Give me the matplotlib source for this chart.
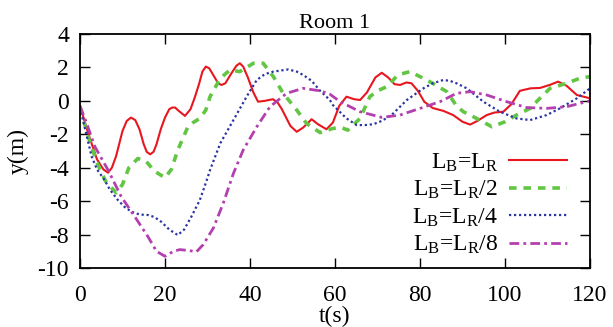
import matplotlib
matplotlib.use("Agg")
import matplotlib.pyplot as plt

plt.rcParams["font.family"] = ["Liberation Serif", "DejaVu Serif"]
plt.rcParams["mathtext.fontset"] = "custom"
plt.rcParams["mathtext.rm"] = "Liberation Serif"
plt.rcParams["mathtext.it"] = "Liberation Serif:italic"
plt.rcParams["axes.unicode_minus"] = False

# Lateral position y(m) over time t(s) for four L_B/L_R ratios
t_full = [0, 2, 4, 5.5, 6.6, 7.5, 8.5, 10, 11, 12, 13, 14, 15, 15.7, 16.5, 17.3, 18,
          19, 20, 21, 21.7, 22.4, 23, 24.7, 26, 27, 28, 28.8, 29.6, 30.4, 31, 32.5,
          33.3, 34.2, 35.5, 36.8, 37.6, 38.4, 39.5, 40.8, 41.9, 43.5, 45.4, 46.5,
          47.5, 48.5, 49.5, 51, 52.5, 54.5, 56, 58, 59.5, 61, 62.7, 64.5, 65.9, 67.5,
          69.5, 71, 72.5, 74, 75.3, 76.8, 78, 79.5, 81, 83, 85.5, 87.8, 90, 91.8,
          93.5, 95.7, 97.5, 99.6, 101.5, 103.5, 106, 108.2, 110.5, 112.5, 114.5,
          116.9, 118.5, 120]
y_full = [-0.3, -2.0, -3.5, -4.1, -4.3, -4.0, -3.3, -1.8, -1.2, -1.0, -1.15, -1.7,
          -2.6, -3.05, -3.2, -3.05, -2.6, -1.7, -1.0, -0.5, -0.4, -0.4, -0.55, -0.9,
          -0.5, 0.2, 1.0, 1.75, 2.05, 1.95, 1.7, 1.05, 0.95, 1.05, 1.6, 2.1, 2.25,
          2.05, 1.4, 0.5, -0.05, 0.0, 0.1, -0.1, -0.5, -1.0, -1.5, -1.85, -1.6, -1.1,
          -1.4, -1.7, -1.3, -0.3, 0.25, 0.1, 0.05, 0.5, 1.4, 1.68, 1.4, 1.0, 0.95, 1.1,
          1.05, 0.6, -0.05, -0.43, -0.6, -0.85, -1.25, -1.42, -1.2, -0.85, -0.7,
          -0.65, -0.2, 0.6, 0.75, 0.77, 0.95, 1.15, 0.9, 0.35, 0.25, 0.15]

t_half = [0, 2, 4, 6, 8.5, 10, 11.5, 13.6, 15.5, 17.5, 20, 21.5, 23, 25.4, 26.6, 28.2,
          29.6, 30.6, 33, 35.3, 37.6, 39.2, 40.8, 43.1, 45.5, 47.8, 51, 53.3, 56.5,
          59.5, 61.5, 63, 65.9, 68.2, 70, 72.2, 74.8, 77.6, 80, 83, 86.3, 88.6, 90.2,
          94.1, 96.9, 100, 102.7, 105.9, 108.2, 110.6, 114.5, 117.6, 120]
y_half = [-0.4, -2.2, -3.7, -4.8, -5.5, -5.0, -4.0, -3.45, -3.6, -4.2, -4.6, -4.1,
          -2.94, -1.55, -1.3, -1.05, -0.55, 0.25, 1.35, 1.85, 1.75, 2.0, 2.25, 2.25,
          1.45, 0.45, -0.55, -1.35, -1.9, -1.65, -1.6, -1.75, -1.05, 0.25, 0.6, 0.85,
          1.55, 1.75, 1.45, 1.05, 0.55, -0.3, -0.65, -1.15, -1.55, -1.25, -0.85, -0.45,
          0.15, 0.75, 1.05, 1.35, 1.45]

t_quarter = [0, 1.5, 2.7, 4, 5.8, 7, 8.9, 10.5, 12.1, 14, 16, 17.5, 19.1, 21, 23, 24.5,
             26.2, 28.2, 29.7, 30.6, 33, 36.1, 39.2, 41.6, 43.5, 45.5, 49, 51, 52.5,
             54.5, 56.5, 58.8, 59.5, 62.7, 65.1, 67, 69, 71, 73.3, 76.9, 80.8, 83, 85.5,
             87, 88.6, 91, 94.9, 98.8, 102.7, 105.9, 109.8, 112.9, 116.9, 120]
y_quarter = [-0.4, -2.0, -3.3, -4.1, -4.74, -5.3, -5.93, -6.35, -6.63, -6.8, -6.83,
             -6.95, -7.23, -7.7, -8.03, -7.7, -6.93, -5.93, -4.84, -4.14, -2.54, -1.15,
             0.25, 1.25, 1.6, 1.75, 1.88, 1.75, 1.55, 1.2, 0.6, 0.05, -0.25, -1.05,
             -1.45, -1.45, -1.4, -1.2, -0.85, 0.05, 0.75, 1.05, 1.25, 1.2, 1.05, 0.75,
             -0.05, -0.65, -1.05, -1.15, -0.85, -0.45, 0.15, 0.75]

t_eighth = [0, 1.5, 3.5, 6.6, 9.7, 12.9, 16, 18, 20, 22, 23.5, 25.5, 27.4, 29, 31.4,
            33.7, 36.1, 38.4, 41.6, 44.7, 48.6, 52.5, 56.5, 58.8, 61.2, 65.9, 71, 75.3,
            80, 84.7, 88.6, 91.8, 95.7, 100.4, 105.1, 109.8, 114.5, 119.2, 120]
y_eighth = [-0.3, -1.3, -2.74, -4.14, -5.73, -6.93, -8.13, -9.0, -9.3, -9.0, -8.9,
            -8.95, -9.03, -8.6, -7.6, -6.13, -4.34, -2.94, -1.55, -0.35, 0.45, 0.75,
            0.6, 0.4, -0.05, -0.65, -0.99, -0.85, -0.45, -0.05, 0.45, 0.55, 0.35,
            -0.05, -0.4, -0.45, -0.35, -0.05, 0.0]

labels = ["L$_\\mathrm{B}$=L$_\\mathrm{R}$",
          "L$_\\mathrm{B}$=L$_\\mathrm{R}$/2",
          "L$_\\mathrm{B}$=L$_\\mathrm{R}$/4",
          "L$_\\mathrm{B}$=L$_\\mathrm{R}$/8"]

x_ticks = [0, 20, 40, 60, 80, 100, 120]
y_ticks = [4, 2, 0, -2, -4, -6, -8, -10]

fig = plt.figure(figsize=(6.13, 3.27), dpi=100)
ax = fig.add_axes([80 / 613, 59 / 327, 510 / 613, 234 / 327])

ax.plot(t_full, y_full, color="#e8161f", lw=1.5, ls="-", label=labels[0],
        solid_joinstyle="round")
ax.plot(t_half, y_half, color="#62c644", lw=2.6, ls=(0, (2.1, 1.9)), label=labels[1])
ax.plot(t_quarter, y_quarter, color="#2b33a5", lw=1.6, ls=(0, (1.0, 1.25)),
        label=labels[2])
ax.plot(t_eighth, y_eighth, color="#b43fae", lw=2.0, ls=(0, (3.5, 1.5, 1.0, 1.5)),
        label=labels[3])

ax.set_xlim(0, 120)
ax.set_ylim(-10, 4)
ax.set_xticks(x_ticks)
ax.set_yticks(y_ticks)
ax.tick_params(direction="in", length=7, width=1.0, top=True, right=True,
               labelsize=17, colors="black")
ax.tick_params(axis="x", pad=12)
ax.tick_params(axis="y", pad=8)
for s in ax.spines.values():
    s.set_linewidth(1.3)

ax.set_title("Room 1", fontsize=16, pad=4)
ax.set_xlabel("t(s)", fontsize=17, va="center")
ax.xaxis.set_label_coords(0.5, -0.205)
ax.set_ylabel("y(m)", fontsize=17, va="center")
ax.yaxis.set_label_coords(-0.122, 0.5)

leg = ax.legend(loc="lower right", bbox_to_anchor=(0.955, 0.05), frameon=False,
                fontsize=17, markerfirst=False, handlelength=2.45,
                handletextpad=0.47, labelspacing=0.22, borderpad=0,
                borderaxespad=0)

fig.savefig("out.png", dpi=100)
